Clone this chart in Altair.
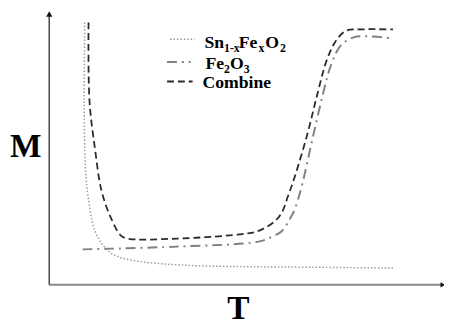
import altair as alt
import pandas as pd

# Sn1-xFexO2 (dotted)
sn_T = [9.0, 9.0, 8.9, 9.2, 10.0, 11.7, 13.75, 16.75, 22.5, 35, 50, 66.75, 87.5]
sn_M = [95.4, 90.7, 66.8, 42.9, 31.1, 19.3, 14.3, 10.7, 8.6, 7.1, 6.6, 6.4, 6.1]

# Fe2O3 (dash-dot)
fe_T = [8.5, 32.5, 53.25, 56.75, 59.25, 61.25, 62.5, 64.25, 66.75, 69.25, 71.75, 74.25, 77.5, 80.75, 87.5]
fe_M = [12.9, 13.9, 15.7, 17.5, 19.6, 23.9, 27.5, 35.7, 51.4, 66.8, 80.0, 87.1, 90.0, 90.4, 89.6]

# Combine (dashed)
co_T = [10, 10.25, 11.7, 13.25, 15.5, 18.25, 20, 32.5, 50, 53.25, 57.5, 59.25, 60.75, 62.5, 65.75,
        68.25, 70.75, 73.25, 75.75, 79.25, 87.5]
co_M = [95.4, 66.8, 48.9, 34.6, 25.0, 17.9, 16.8, 16.8, 18.6, 19.6, 23.2, 26.4, 32.1, 39.3, 55.0,
        69.3, 82.1, 89.3, 92.5, 92.9, 92.9]

x_dom = [-10.5, 100.5]
y_dom = [-13.21, 99.64]
xs = alt.Scale(domain=x_dom, nice=False, zero=False)
ys = alt.Scale(domain=y_dom, nice=False, zero=False)
SERIF = "'Liberation Serif', 'Times New Roman', Times, serif"


def curve(T, M, color, dash, width):
    df = pd.DataFrame({"T": T, "M": M, "i": range(len(T))})
    return alt.Chart(df).mark_line(
        color=color, strokeDash=dash, strokeWidth=width, interpolate="catmull-rom"
    ).encode(
        x=alt.X("T:Q", scale=xs, axis=None),
        y=alt.Y("M:Q", scale=ys, axis=None),
        order="i:Q",
    )


sn = curve(sn_T, sn_M, "#9a9a9a", [1.5, 2], 1.5)
fe = curve(fe_T, fe_M, "#808080", [10, 5, 2, 5], 2)
co = curve(co_T, co_M, "#2a2a2a", [7, 4], 1.8)

# axes
axdf = pd.DataFrame({"T": [0], "M": [0], "Ttop": [100.2], "Mtop": [98.5]})
yaxis = alt.Chart(axdf).mark_rule(color="#444444", strokeWidth=1.5).encode(
    x=alt.X("T:Q", scale=xs, axis=None), y=alt.Y("M:Q", scale=ys, axis=None), y2="Mtop:Q")
xaxis = alt.Chart(axdf).mark_rule(color="#888888", strokeWidth=2).encode(
    x=alt.X("T:Q", scale=xs, axis=None), x2="Ttop:Q", y=alt.Y("M:Q", scale=ys, axis=None))
yarrow = alt.Chart(axdf).mark_point(shape="triangle-up", filled=True, color="#111111", size=40, opacity=1).encode(
    x=alt.X("T:Q", scale=xs, axis=None), y=alt.Y("Mtop:Q", scale=ys, axis=None))
xarrow = alt.Chart(axdf).mark_point(shape="triangle-right", filled=True, color="#111111", size=30, opacity=1).encode(
    x=alt.X("Ttop:Q", scale=xs, axis=None), y=alt.Y("M:Q", scale=ys, axis=None))


def leg_line(x1, x2, y, color, dash, width):
    return alt.Chart(axdf).mark_rule(color=color, strokeDash=dash, strokeWidth=width).encode(
        x=alt.value(x1), x2=alt.value(x2), y=alt.value(y))


def txt(s, x, y, size, bold=True, align="left"):
    return alt.Chart(axdf).mark_text(
        text=s, font=SERIF, fontSize=size, fontWeight="bold" if bold else "normal",
        align=align, baseline="alphabetic", color="#000000"
    ).encode(x=alt.value(x), y=alt.value(y))


legend = [
    leg_line(165, 190, 29, "#9a9a9a", [1.5, 2], 1.5),
    leg_line(162, 186, 52, "#808080", [10, 5, 2, 5], 2),
    leg_line(162, 188, 72, "#2a2a2a", [7, 4], 2),
    txt("Sn", 200, 38, 18), txt("1-x", 220, 42, 12), txt("Fe", 235, 38, 18),
    txt("x", 255, 42, 12), txt("O", 262, 38, 18), txt("2", 277, 42, 12),
    txt("Fe", 201, 59, 18), txt("2", 220, 63, 12), txt("O", 226, 59, 18), txt("3", 240, 63, 12),
    txt("Combine", 198, 79, 18),
    txt("M", 18, 149, 34, align="center"),
    txt("T", 234.5, 314, 34, align="center"),
]

chart = alt.layer(xaxis, yaxis, yarrow, xarrow, sn, fe, co, *legend).properties(
    width=444, height=316, padding=0, autosize="none"
).configure_view(stroke=None)

chart.save("out.html", embed_options={"renderer": "svg", "actions": False})
